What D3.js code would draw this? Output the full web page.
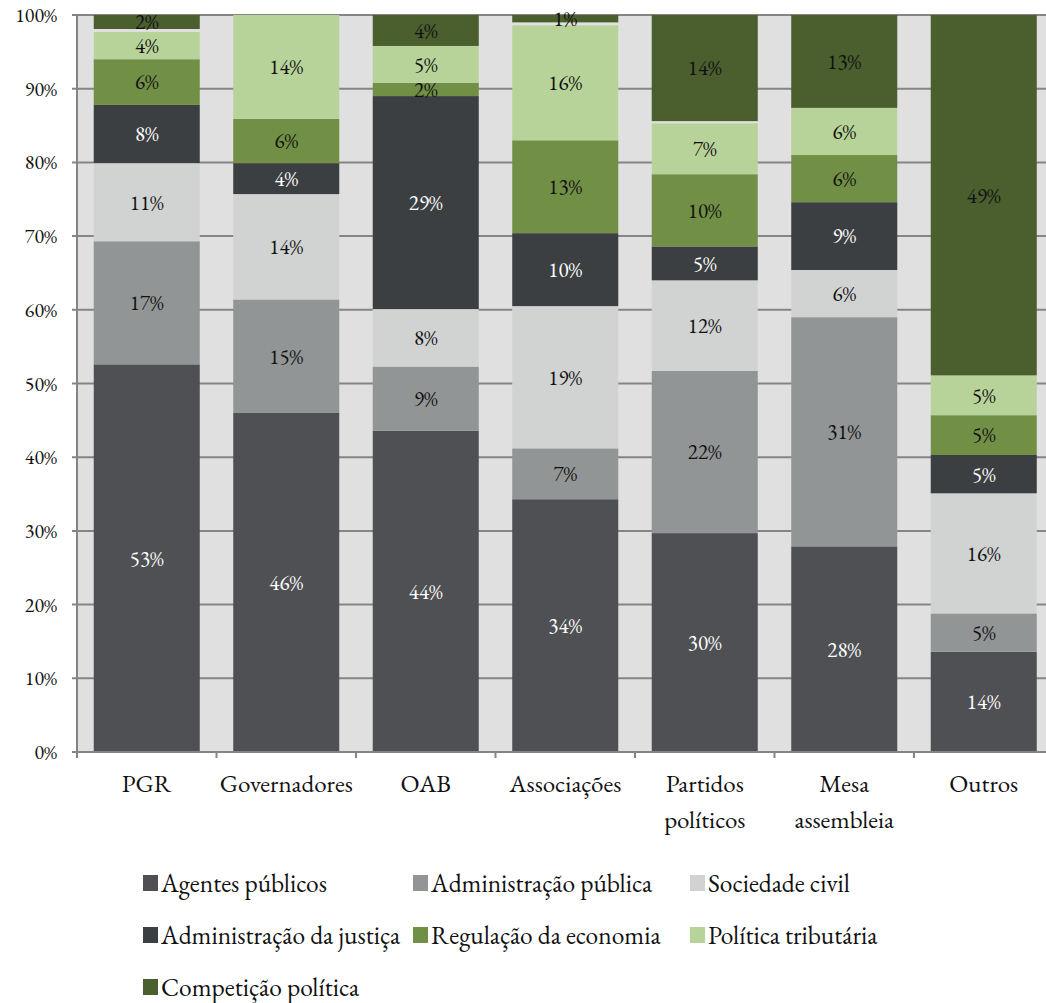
<!DOCTYPE html>
<html>
<head>
<meta charset="utf-8">
<script src="https://cdn.jsdelivr.net/npm/d3@7"></script>
<style>
  body { margin: 0; background: #fff; }
  text { font-family: "EB Garamond", Garamond, "Liberation Serif", serif; }
</style>
</head>
<body>
<script>
// categories (x axis)
var categorias = ["PGR", "Governadores", "OAB", "Associações", "Partidos políticos", "Mesa assembleia", "Outros"];
var categoriaLinhas = [["PGR"], ["Governadores"], ["OAB"], ["Associações"], ["Partidos", "políticos"], ["Mesa", "assembleia"], ["Outros"]];

// series values (% per category)
var agentesPublicos     = [52.6, 46.0, 43.6, 34.3, 29.7, 27.9, 13.6];
var adminPublica        = [16.7, 15.4,  8.7,  6.9, 22.0, 31.1,  5.2];
var sociedadeCivil      = [10.6, 14.3,  7.8, 19.3, 12.3,  6.4, 16.3];
var adminJustica        = [ 7.9,  4.2, 28.9,  9.9,  4.6,  9.2,  5.2];
var regulacaoEconomia   = [ 6.2,  6.0,  1.8, 12.6,  9.8,  6.4,  5.4];
var politicaTributaria  = [ 3.7, 14.1,  5.0, 15.6,  6.9,  6.4,  5.4];
var semClassificacao    = [ 0.4,  0.0,  0.0,  0.4,  0.3,  0.0,  0.0]; // thin unlabeled gap
var competicaoPolitica  = [ 1.9,  0.0,  4.2,  1.0, 14.4, 12.6, 48.9];

var yTicks = [0, 10, 20, 30, 40, 50, 60, 70, 80, 90, 100];

var series = [
  {key: "Agentes públicos", values: agentesPublicos, color: "#4f5053", text: "#fff"},
  {key: "Administração pública", values: adminPublica, color: "#929595", text: "#111"},
  {key: "Sociedade civil", values: sociedadeCivil, color: "#d1d3d2", text: "#111"},
  {key: "Administração da justiça", values: adminJustica, color: "#3c3f42", text: "#fff"},
  {key: "Regulação da economia", values: regulacaoEconomia, color: "#728f46", text: "#111"},
  {key: "Política tributária", values: politicaTributaria, color: "#b8d39a", text: "#111"},
  {key: "gap", values: semClassificacao, color: "none", text: "none", hidden: true},
  {key: "Competição política", values: competicaoPolitica, color: "#4a5e2e", text: "#111"}
];

var W = 1046, H = 1003;
var plotLeft = 77, plotTop = 15, plotBottom = 752;

var svg = d3.select("body").append("svg")
    .attr("width", W)
    .attr("height", H);

// build table rows for d3.stack
var table = categorias.map(function(c, i) {
  var row = {cat: c};
  series.forEach(function(s) { row[s.key] = s.values[i]; });
  return row;
});

var stack = d3.stack().keys(series.map(function(s) { return s.key; }));
var layers = stack(table);

var x = d3.scaleBand().domain(categorias).range([plotLeft, 1053.5]).paddingInner(0.24).paddingOuter(0.12);
var y = d3.scaleLinear().domain([0, 100]).range([plotBottom, plotTop]);

// plot background
svg.append("rect")
  .attr("x", plotLeft).attr("y", plotTop)
  .attr("width", W - plotLeft).attr("height", plotBottom - plotTop)
  .attr("fill", "#e0e0e0");

// gridlines
svg.append("g")
  .selectAll("line")
  .data(yTicks)
  .enter().append("line")
  .attr("x1", plotLeft - 5).attr("x2", W)
  .attr("y1", function(d) { return y(d); })
  .attr("y2", function(d) { return y(d); })
  .attr("stroke", "#858585")
  .attr("stroke-width", 2);

// bars
var groups = svg.append("g").selectAll("g")
  .data(layers)
  .enter().append("g")
  .attr("fill", function(d, i) { return series[i].color; });

groups.selectAll("rect")
  .data(function(d) { return d; })
  .enter().append("rect")
  .attr("x", function(d) { return x(d.data.cat); })
  .attr("y", function(d) { return y(d[1]); })
  .attr("width", x.bandwidth())
  .attr("height", function(d) { return y(d[0]) - y(d[1]); });

// value labels
layers.forEach(function(layer, i) {
  var s = series[i];
  if (s.hidden) return;
  svg.append("g").selectAll("text")
    .data(layer.filter(function(d) { return d[1] - d[0] > 0; }))
    .enter().append("text")
    .attr("x", function(d) { return x(d.data.cat) + x.bandwidth() / 2; })
    .attr("y", function(d) { return (y(d[0]) + y(d[1])) / 2; })
    .attr("dy", "0.35em")
    .attr("text-anchor", "middle")
    .attr("font-size", 21)
    .attr("fill", s.text)
    .text(function(d) { return Math.round(d[1] - d[0]) + "%"; });
});

// y axis line
svg.append("line")
  .attr("x1", plotLeft).attr("x2", plotLeft)
  .attr("y1", plotTop).attr("y2", plotBottom + 6)
  .attr("stroke", "#858585").attr("stroke-width", 2);

// x axis line + ticks at band edges
svg.append("line")
  .attr("x1", plotLeft - 5).attr("x2", W)
  .attr("y1", plotBottom).attr("y2", plotBottom)
  .attr("stroke", "#858585").attr("stroke-width", 2);

var step = x.step();
svg.append("g").selectAll("line")
  .data(d3.range(categorias.length))
  .enter().append("line")
  .attr("x1", function(i) { return plotLeft + i * step; })
  .attr("x2", function(i) { return plotLeft + i * step; })
  .attr("y1", plotBottom).attr("y2", plotBottom + 6)
  .attr("stroke", "#858585").attr("stroke-width", 2);

// y tick labels
svg.append("g").selectAll("text")
  .data(yTicks)
  .enter().append("text")
  .attr("x", 57)
  .attr("y", function(d) { return y(d); })
  .attr("dy", "0.35em")
  .attr("text-anchor", "end")
  .attr("font-size", 20)
  .attr("fill", "#111")
  .text(function(d) { return d + "%"; });

// category labels
categorias.forEach(function(c, i) {
  var t = svg.append("text")
    .attr("x", x(c) + x.bandwidth() / 2)
    .attr("y", 792)
    .attr("text-anchor", "middle")
    .attr("font-size", 25)
    .attr("fill", "#111");
  categoriaLinhas[i].forEach(function(line, j) {
    t.append("tspan")
      .attr("x", x(c) + x.bandwidth() / 2)
      .attr("dy", j === 0 ? 0 : 36)
      .text(line);
  });
});

// legend
var legendItems = series.filter(function(s) { return !s.hidden; });
var legendCols = [143, 413, 690];
var legend = svg.append("g").selectAll("g")
  .data(legendItems)
  .enter().append("g")
  .attr("transform", function(d, i) {
    return "translate(" + legendCols[i % 3] + "," + (883 + Math.floor(i / 3) * 52) + ")";
  });

legend.append("rect")
  .attr("x", 0).attr("y", -8)
  .attr("width", 15).attr("height", 16)
  .attr("fill", function(d) { return d.color; });

legend.append("text")
  .attr("x", 18)
  .attr("dy", "0.35em")
  .attr("font-size", 25.5)
  .attr("fill", "#111")
  .text(function(d) { return d.key; });
</script>
</body>
</html>
